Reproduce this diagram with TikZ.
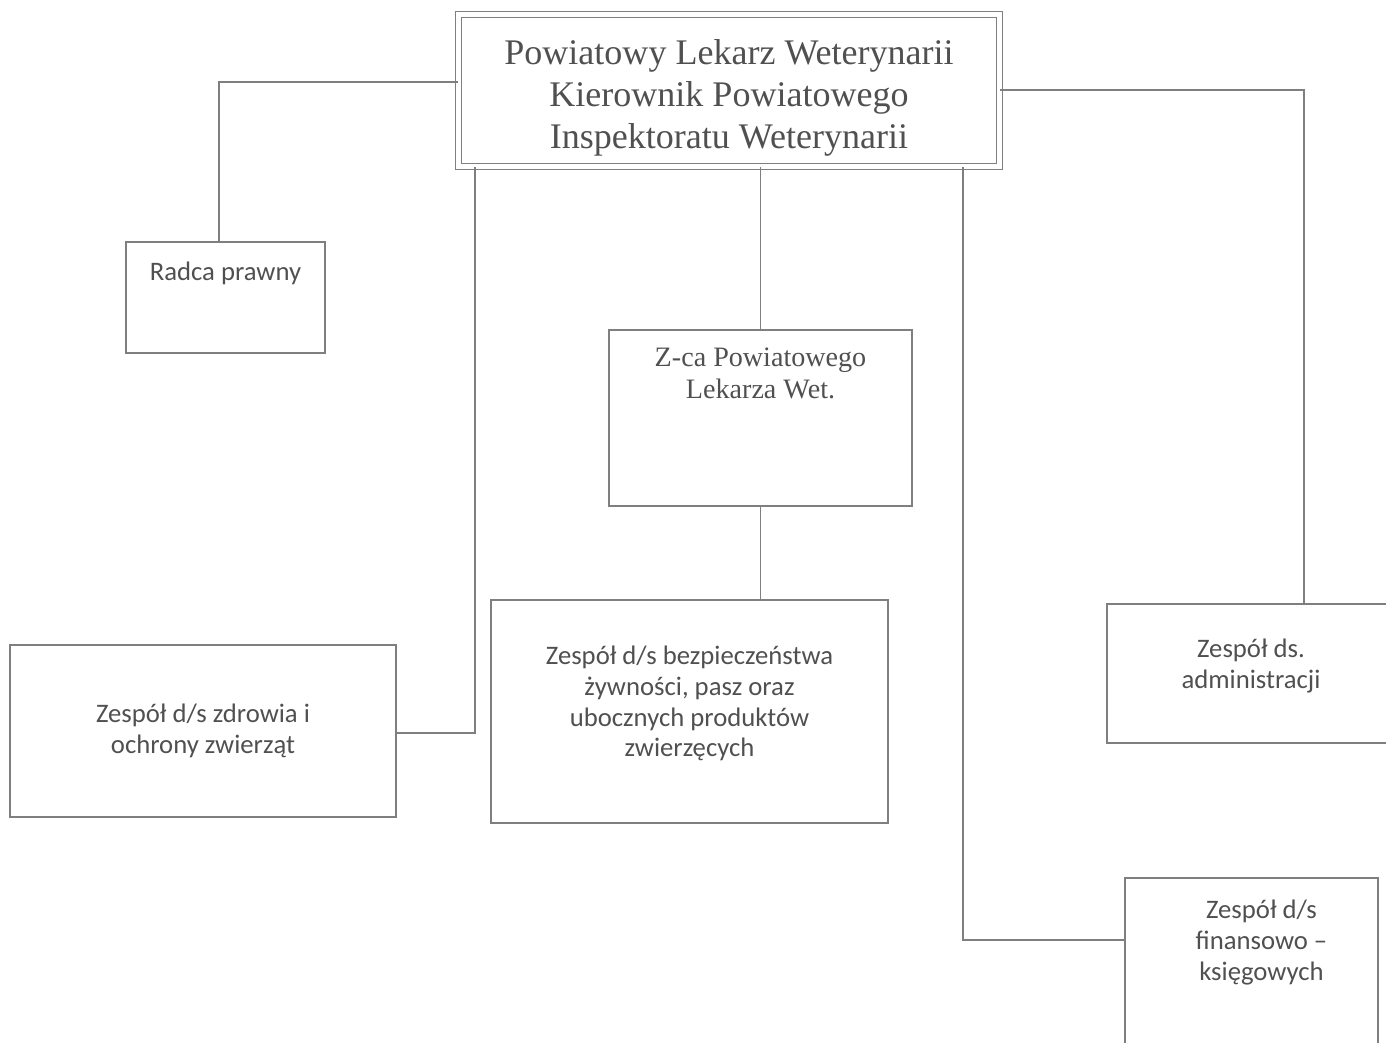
\documentclass[tikz,border=0pt]{standalone}
\usepackage{fontspec}
\setmainfont{Liberation Serif}
\newfontfamily\calib{Carlito}
\definecolor{linegray}{HTML}{7F7F7F}
\definecolor{textgray}{HTML}{505050}
\tikzset{
  calibfont/.style={font=\calib\fontsize{15.2}{17.6}\selectfont},
  seriffont/.style={font=\fontsize{16}{18.2}\selectfont},
  box/.style={draw=linegray, line width=0.8pt, inner sep=0pt, align=center, text=textgray},
  topbox/.style={box, double, double distance=0.1cm, line width=0.6pt, font=\fontsize{20.5}{24}\selectfont},
  intext/.style={anchor=north, inner sep=0pt, align=center, text=textgray},
  link/.style={draw=linegray, line width=0.8pt}
}
\begin{document}
\begin{tikzpicture}[x=0.02cm, y=-0.02cm]
\useasboundingbox (0,0) rectangle (1386,1042);
\clip (0,0) rectangle (1386,1042);

\node[topbox, minimum width=10.83cm, minimum height=3.04cm,
  label={[intext, font=\fontsize{20.5}{24}\selectfont, yshift=-0.5cm]north:{Powiatowy Lekarz Weterynarii\\Kierownik Powiatowego\\Inspektoratu Weterynarii}}] (top) at (729,90.5) {};
\node[box, minimum width=3.98cm, minimum height=2.22cm,
  label={[intext, calibfont, yshift=-0.4cm]north:Radca prawny}] (radca) at (225.5,297.5) {};
\node[box, minimum width=6.06cm, minimum height=3.52cm,
  label={[intext, seriffont, yshift=-0.36cm]north:{Z-ca Powiatowego\\Lekarza Wet.}}] (zca) at (760.5,418) {};
\node[box, minimum width=7.94cm, minimum height=4.46cm,
  label={[intext, calibfont, yshift=-0.92cm]north:{Zespół d/s bezpieczeństwa\\żywności, pasz oraz\\ubocznych produktów\\zwierzęcych}}] (food) at (689.5,711.5) {};
\node[box, calibfont, minimum width=7.72cm, minimum height=3.44cm] (health) at (203,731)
  {Zespół d/s zdrowia i\\ochrony zwierząt};
\node[box, minimum width=5.76cm, minimum height=2.78cm,
  label={[intext, calibfont, yshift=-0.7cm]north:{Zespół ds.\\administracji}}] (admin) at (1251,673.5) {};
\node[box, minimum width=5.06cm, minimum height=4.24cm,
  label={[intext, calibfont, yshift=-0.44cm, xshift=0.2cm]north:{Zespół d/s\\finansowo –\\księgowych}}] (fin) at (1251.5,984) {};

\coordinate (bendL) at (219,82);
\coordinate (bendA) at (1304,90);
\coordinate (bendH) at (475,733);
\coordinate (bendF) at (963,940);

\draw[link] (top.west |- bendL) -- (bendL) -- (bendL |- radca.north);
\draw[link] (top.east |- bendA) -- (bendA) -- (bendA |- admin.north);
\draw[link] (top.south -| zca.north) -- (zca.north);
\draw[link] (zca.south) -- (zca.south |- food.north);
\draw[link] (top.south -| bendH) -- (bendH) -- (bendH -| health.east);
\draw[link] (top.south -| bendF) -- (bendF) -- (bendF -| fin.west);
\end{tikzpicture}
\end{document}
